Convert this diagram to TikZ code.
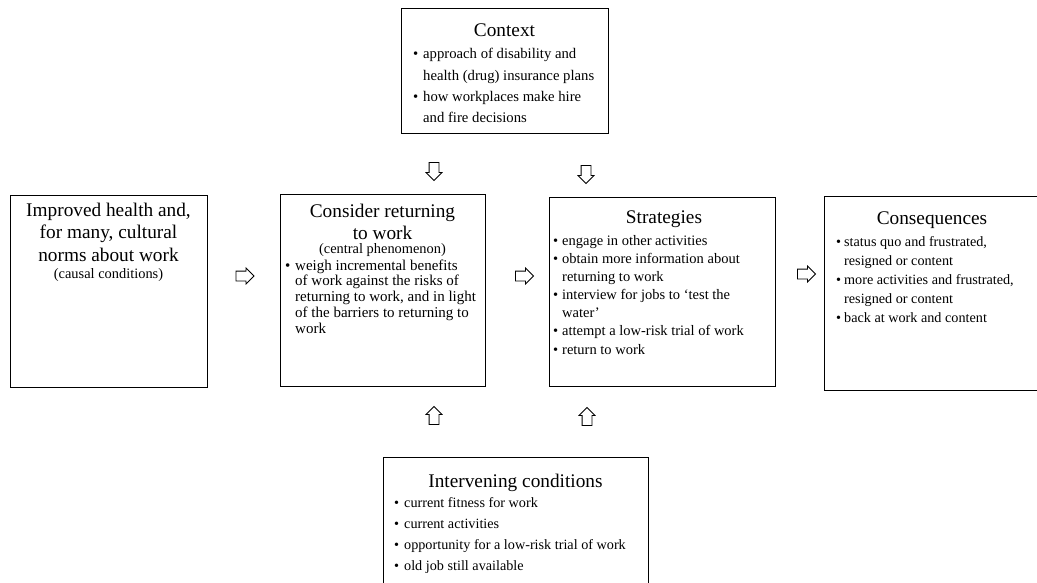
\documentclass[tikz,border=0pt]{standalone}
\usepackage{fontspec}
\setmainfont{Liberation Serif}
\usetikzlibrary{shapes.arrows}

% bullet list helpers
\newlength\bulgap
\setlength\bulgap{10pt}
\newcommand\itm[1]{\hangindent=\bulgap\hangafter=1\noindent\makebox[\bulgap][l]{\textbullet}#1\par}
\newcommand\blist[4]{% gap, size, skip, items
  \parbox[t]{260pt}{\raggedright\setlength\bulgap{#1}\fontsize{#2}{#3}\selectfont #4}}

\begin{document}
\begin{tikzpicture}[x=1pt,y=-1pt,
  box/.style={draw, line width=0.9pt, inner sep=0pt, anchor=north west},
  ttl/.style={inner sep=0pt, anchor=base, font=\fontsize{19.3}{23}\selectfont},
  sub/.style={inner sep=0pt, anchor=base, font=\fontsize{14.4}{16}\selectfont},
  lst/.style={inner sep=0pt, anchor=base west},
  blk/.style={single arrow, draw, line width=0.8pt, fill=white, inner sep=4.5pt,
              minimum height=18pt, single arrow head extend=3pt}]
\useasboundingbox (0,0) rectangle (1037,583);
\clip (0,0) rectangle (1037,583);

% boxes
\node[box, minimum width=207pt, minimum height=125pt] (context) at (401,8) {};
\node[box, minimum width=197pt, minimum height=192pt] (cause) at (10,195) {};
\node[box, minimum width=205pt, minimum height=192pt] (central) at (280,194) {};
\node[box, minimum width=226pt, minimum height=189pt] (strat) at (549,197) {};
\node[box, minimum width=230pt, minimum height=194pt] (conseq) at (824,196) {};
\node[box, minimum width=265pt, minimum height=140pt] (interv) at (383,457) {};

% context
\node[ttl] (ctxT) at (504.5,37) {Context};
\node[lst] (ctxL) at (413,59) {\blist{10pt}{14.7}{21.2}{%
  \itm{approach of disability and\newline health (drug) insurance plans}
  \itm{how workplaces make hire\newline and fire decisions}}};

% causal conditions
\node[inner sep=0pt, anchor=base] (causeT) at (108.5,217) {\parbox[t]{190pt}{\centering
  \fontsize{19.3}{22}\selectfont Improved health and,\\ for many, cultural\\ norms about work\par}};
\node[sub] (causeS) at (108.5,278) {(causal conditions)};

% central phenomenon
\node[inner sep=0pt, anchor=base] (centT) at (382.5,218) {\parbox[t]{200pt}{\centering
  \fontsize{19.3}{22}\selectfont Consider returning\\ to work\par}};
\node[sub] (centS) at (382.5,254) {(central phenomenon)};
\node[lst] (centL) at (285,270) {\blist{10pt}{15}{15.8}{%
  \itm{weigh incremental benefits\newline of work against the risks of\newline returning to work, and in light\newline of the barriers to returning to\newline work}}};

% strategies
\node[ttl] (stratT) at (664,223) {Strategies};
\node[lst] (stratL) at (553,245) {\blist{9pt}{14.5}{18.2}{%
  \itm{engage in other activities}
  \itm{obtain more information about\newline returning to work}
  \itm{interview for jobs to ‘test the\newline water’}
  \itm{attempt a low-risk trial of work}
  \itm{return to work}}};

% consequences
\node[ttl] (consT) at (932,225) {Consequences};
\node[lst] (consL) at (836,247) {\blist{8pt}{14.2}{19}{%
  \itm{status quo and frustrated,\newline resigned or content}
  \itm{more activities and frustrated,\newline resigned or content}
  \itm{back at work and content}}};

% intervening conditions
\node[ttl] (intT) at (515.5,487) {Intervening conditions};
\node[lst] (intL) at (394,507) {\blist{10pt}{14.2}{21.3}{%
  \itm{current fitness for work}
  \itm{current activities}
  \itm{opportunity for a low-risk trial of work}
  \itm{old job still available}}};

% block arrows
\node[blk] (a1) at (242.5,276) {};
\node[blk] (a2) at (522,276) {};
\node[blk] (a3) at (804,274) {};
\node[blk, shape border rotate=270] (d1) at (434,169) {};
\node[blk, shape border rotate=270] (d2) at (586,172) {};
\node[blk, shape border rotate=90] (u1) at (434,418) {};
\node[blk, shape border rotate=90] (u2) at (587,419) {};
\end{tikzpicture}
\end{document}
